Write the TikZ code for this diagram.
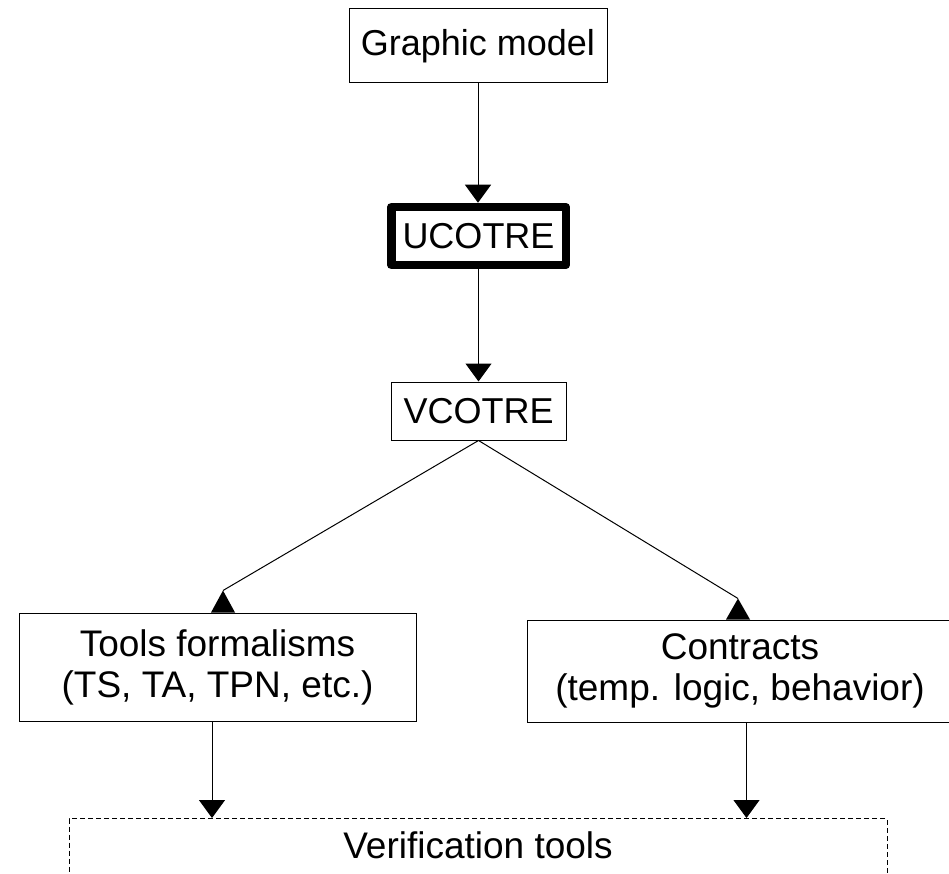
\documentclass[tikz,border=0pt]{standalone}
\usepackage{fontspec}
\setmainfont{Liberation Sans}
\usetikzlibrary{arrows.meta}
\begin{document}
\begin{tikzpicture}[x=1pt,y=-1pt,
  box/.style={draw=black, line width=1pt, rectangle, inner sep=0pt, align=center,
              font=\fontsize{36}{41}\selectfont},
  bigtext/.style={font=\fontsize{37}{41}\selectfont},
  conn/.style={line width=1pt, -{Triangle[width=26pt,length=18pt]}},
  plainline/.style={line width=1pt}]
\useasboundingbox (0,0) rectangle (949,874);
\node[box, minimum width=258pt, minimum height=74pt] (gm) at (478,46) {Graphic model};
\node[box, line width=8.5pt, line join=round, minimum width=174.5pt, minimum height=58pt] (uc) at (478.5,236) {UCOTRE};
\node[box, minimum width=175pt, minimum height=58pt] (vc) at (478.5,411) {VCOTRE};
\node[box, bigtext, minimum width=397pt, minimum height=108pt] (tf) at (217.5,667) {Tools formalisms\\(TS, TA, TPN, etc.)};
\node[box, bigtext, minimum width=426pt, minimum height=102pt] (ct) at (740,671) {Contracts\\(temp. logic, behavior)};
\node[draw=black, line width=1pt, dash pattern=on 5pt off 3pt, rectangle, inner sep=0pt,
      minimum width=818pt, anchor=north, text height=40pt, text depth=60pt,
      bigtext] (vt) at (478,818) {Verification tools};
\draw[conn] (gm.south) -- (gm.south |- uc.north);
\draw[conn] (uc.south) -- (uc.south |- vc.north);
\coordinate (tfa) at ([shift={(5.5,-22)}]tf.north);
\coordinate (cta) at ([shift={(-2,-21)}]ct.north);
\draw[plainline] (vc.south) -- (tfa);
\fill (tfa) -- ++(-12,22) -- ++(24,0) -- cycle;
\draw[plainline] (vc.south) -- (cta);
\fill (cta) -- ++(-12,21) -- ++(24,0) -- cycle;
\draw[conn] ([xshift=-5.5pt]tf.south) -- ([xshift=-5.5pt]tf.south |- vt.north);
\draw[conn] ([xshift=6.5pt]ct.south) -- ([xshift=6.5pt]ct.south |- vt.north);
\end{tikzpicture}
\end{document}
